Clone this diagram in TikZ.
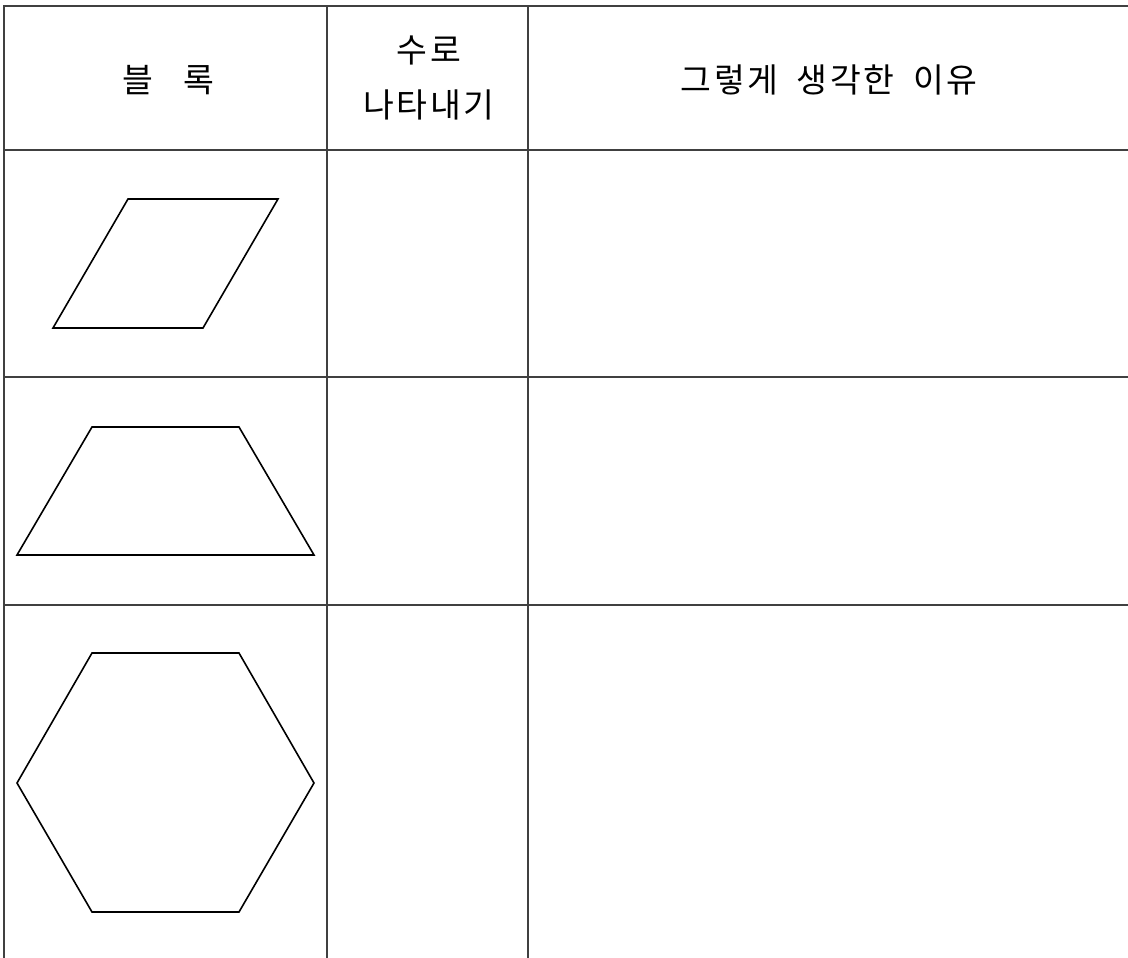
\documentclass[tikz,border=0pt]{standalone}
\usepackage{fontspec}
\newfontfamily\kr[LetterSpace=8]{Noto Sans CJK KR}
\begin{document}
\begin{tikzpicture}[x=1pt,y=-1pt,
  grid/.style={draw=black!75,line width=1.3pt},
  figline/.style={draw=black,line width=1.6pt,line join=miter},
  hd/.style={font=\kr\fontsize{33.5}{55}\selectfont,inner sep=0pt,align=center}]
\useasboundingbox (0,0) rectangle (1128,958);
% grid
\draw[grid] (1128,6) -- (4,6) -- (4,958);
\draw[grid] (4,150) -- (1128,150);
\draw[grid] (4,377) -- (1128,377);
\draw[grid] (4,605) -- (1128,605);
\draw[grid] (327,6) -- (327,958);
\draw[grid] (528,6) -- (528,958);
% headers
\node[hd] (h1) at (168,80) {블\hspace{0.9em}록};
\node[hd] (h2) at (429,78) {수로\\나타내기};
\node[hd] (h3) at (829,80) {그렇게\hspace{0.55em}생각한\hspace{0.55em}이유};
% shapes
\draw[figline] (128,199) -- (278,199) -- (203,328) -- (53,328) -- cycle;
\draw[figline] (92,427) -- (239,427) -- (314,555) -- (17,555) -- cycle;
\draw[figline] (92,653) -- (239,653) -- (314,783) -- (239,912) -- (92,912) -- (17,783) -- cycle;
\end{tikzpicture}
\end{document}
